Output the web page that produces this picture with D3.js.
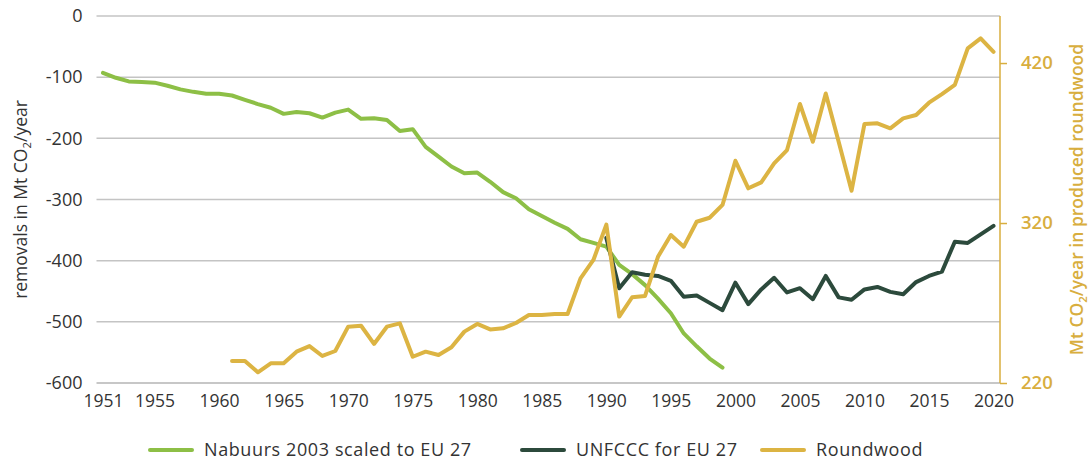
<!DOCTYPE html>
<html>
<head>
<meta charset="utf-8">
<script src="https://cdn.jsdelivr.net/npm/d3@7"></script>
<style>
  html, body { margin: 0; padding: 0; background: #fff; }
  svg { display: block; font-family: "Open Sans", "Noto Sans", sans-serif; }
</style>
</head>
<body>
<svg id="chart" width="1089" height="462"></svg>
<script>
// Forest carbon removals (left axis) and CO2 stored in produced roundwood (right axis)
const nabuursStart = 1951;
const nabuurs = [
  -93, -101, -107, -108, -109, -114, -120, -124, -127, -127,
  -130, -137, -144, -150, -160, -157, -159, -166, -158, -153,
  -168, -167, -170, -188, -185, -214, -230, -246, -257, -256,
  -271, -288, -298, -316, -327, -338, -348, -365, -371, -377,
  -407, -422, -440, -462, -486, -519, -540, -560, -575
];

const unfcccStart = 1990;
const unfccc = [
  -363, -445, -419, -423, -425, -433, -459, -457, -469, -481,
  -436, -471, -447, -428, -452, -445, -463, -425, -460, -464,
  -447, -443, -451, -455, -435, -425, -418, -369, -371, -357,
  -343
];

const roundwoodStart = 1961;
const roundwood = [
  233.8, 233.8, 226.7, 232.3, 232.3, 239.6, 243.1, 236.9, 240.0, 255.2,
  255.8, 244.4, 255.2, 257.3, 236.4, 239.6, 237.5, 242.3, 252.1, 256.9,
  253.5, 254.2, 257.5, 262.5, 262.5, 263.1, 263.1, 285.4, 296.9, 319.0,
  261.5, 273.6, 274.4, 298.9, 312.5, 305.2, 320.8, 323.3, 331.3, 358.9,
  341.7, 345.4, 357.3, 365.6, 394.4, 370.8, 401.0, 370.8, 340.2, 381.9,
  382.3, 379.2, 385.4, 387.5, 395.2, 400.6, 406.3, 429.2, 435.4, 427.0
];

const xTicks = [1951, 1955, 1960, 1965, 1970, 1975, 1980, 1985, 1990, 1995, 2000, 2005, 2010, 2015, 2020];
const leftTicks = [0, -100, -200, -300, -400, -500, -600];
const rightTicks = [220, 320, 420];
const leftDomain = [-600, 0];
const rightDomain = [220, 449.4];
const yearDomain = [1950.5, 2020.5];

const seriesNames = ["Nabuurs 2003 scaled to EU 27", "UNFCCC for EU 27", "Roundwood"];
const colors = { nabuurs: "#8dbf46", unfccc: "#2c4a3c", roundwood: "#dcb443" };

const svg = d3.select("#chart");
const plot = { left: 96.5, right: 1000, top: 16, bottom: 383 };

const x = d3.scaleLinear().domain(yearDomain).range([plot.left, plot.right]);
const yL = d3.scaleLinear().domain(leftDomain).range([plot.bottom, plot.top]);
const yR = d3.scaleLinear().domain(rightDomain).range([plot.bottom, plot.top]);

const toPoints = (start, arr) => arr.map((v, i) => ({ year: start + i, v }));

// Horizontal gridlines (the -600 line doubles as the category axis)
svg.append("g")
  .selectAll("line")
  .data(leftTicks)
  .join("line")
  .attr("x1", plot.left).attr("x2", plot.right)
  .attr("y1", d => yL(d)).attr("y2", d => yL(d))
  .attr("stroke", d => d === -600 ? "#b5b5b5" : "#c4c4c4")
  .attr("stroke-width", 1.5);

// Left axis labels
const leftAxis = svg.append("g")
  .attr("transform", `translate(${plot.left},0)`)
  .call(d3.axisLeft(yL).tickValues(leftTicks).tickSize(0).tickPadding(14).tickFormat(d3.format("d")));
leftAxis.select(".domain").remove();
leftAxis.selectAll("text")
  .attr("fill", "#333").attr("font-size", 18).attr("font-family", "Open Sans, sans-serif")
  .text(d => d < 0 ? "-" + Math.abs(d) : String(d));

// Bottom axis labels
const bottomAxis = svg.append("g")
  .attr("transform", `translate(0,${plot.bottom})`)
  .call(d3.axisBottom(x).tickValues(xTicks).tickSize(0).tickPadding(12).tickFormat(d3.format("d")));
bottomAxis.select(".domain").remove();
bottomAxis.selectAll("text")
  .attr("fill", "#333").attr("font-size", 17.5).attr("font-family", "Open Sans, sans-serif");

// Right axis
const rightColor = "#d8ae3e";
const rightAxis = svg.append("g")
  .attr("transform", `translate(${plot.right},0)`)
  .call(d3.axisRight(yR).tickValues(rightTicks).tickSize(7).tickPadding(14).tickFormat(d3.format("d")));
rightAxis.select(".domain").attr("stroke", rightColor).attr("stroke-width", 1.5)
  .attr("d", `M0,${plot.top}V${plot.bottom}`);
rightAxis.selectAll(".tick line").attr("stroke", rightColor).attr("stroke-width", 1.5);
rightAxis.selectAll("text")
  .attr("fill", rightColor).attr("font-size", 18.5).attr("font-weight", 600)
  .attr("font-family", "Open Sans, sans-serif");

// Axis titles with subscript 2
function subTitle(g, before, after) {
  const t = g.append("text").attr("text-anchor", "middle");
  t.append("tspan").text(before);
  t.append("tspan").text("2").attr("font-size", "0.65em").attr("dy", 4);
  t.append("tspan").text(after).attr("dy", -4);
  return t;
}
const lt = svg.append("g").attr("transform", `translate(27,${(plot.top + plot.bottom) / 2}) rotate(-90)`);
subTitle(lt, "removals in Mt CO", "/year").attr("fill", "#333").attr("font-size", 17.5);

const rt = svg.append("g").attr("transform", `translate(1083,${(plot.top + plot.bottom) / 2}) rotate(-90)`);
subTitle(rt, "Mt CO", "/year in produced roundwood").attr("fill", rightColor).attr("font-size", 17.5).attr("font-weight", 600);

// Series lines
const lineL = d3.line().x(d => x(d.year)).y(d => yL(d.v));
const lineR = d3.line().x(d => x(d.year)).y(d => yR(d.v));

const lines = [
  { data: toPoints(nabuursStart, nabuurs), gen: lineL, color: colors.nabuurs },
  { data: toPoints(unfcccStart, unfccc), gen: lineL, color: colors.unfccc },
  { data: toPoints(roundwoodStart, roundwood), gen: lineR, color: colors.roundwood }
];
svg.append("g")
  .selectAll("path")
  .data(lines)
  .join("path")
  .attr("d", d => d.gen(d.data))
  .attr("fill", "none")
  .attr("stroke", d => d.color)
  .attr("stroke-width", 4)
  .attr("stroke-linejoin", "round")
  .attr("stroke-linecap", "round");

// Legend
const legendItems = [
  { name: seriesNames[0], color: colors.nabuurs, x: 150 },
  { name: seriesNames[1], color: colors.unfccc, x: 522 },
  { name: seriesNames[2], color: colors.roundwood, x: 762 }
];
const lg = svg.append("g").selectAll("g").data(legendItems).join("g")
  .attr("transform", d => `translate(${d.x},450)`);
lg.append("line").attr("x1", 0).attr("x2", 42).attr("y1", 0).attr("y2", 0)
  .attr("stroke", d => d.color).attr("stroke-width", 4).attr("stroke-linecap", "round");
lg.append("text").attr("x", 54).attr("y", 0).attr("dy", "0.35em")
  .attr("fill", "#333").attr("font-size", 18).attr("letter-spacing", 0.6)
  .text(d => d.name);
</script>
</body>
</html>
